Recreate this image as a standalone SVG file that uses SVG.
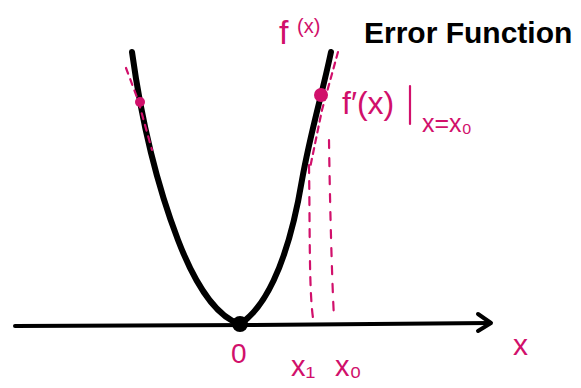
<svg xmlns="http://www.w3.org/2000/svg" width="581" height="388" viewBox="0 0 581 388">
<style>
.pk{fill:#d1106b;font-family:"Liberation Sans",sans-serif}
.pks{fill:none;stroke:#d1106b;stroke-width:2.2;stroke-linecap:round}
.bk{fill:none;stroke:#000;stroke-linecap:round;stroke-linejoin:round}
</style>
<rect width="581" height="388" fill="#fff"/>
<g id="connectors">
<path class="bk" stroke-width="4" d="M15,326 L250,325 L490,323"/>
<path class="bk" stroke-width="4" d="M478,314 L491,323 L478,331"/>
<path class="bk" stroke-width="6" d="M132,52 C140,110 155,180 178,240 C198,292 220,318 240,324 C262,310 287,270 302,180 C311,130 322,95 331,52"/>
<path class="pks" stroke-dasharray="6,5" d="M338,52 L322,110 L310,168"/>
<path class="pks" stroke-dasharray="8,8" d="M309,165 C310,230 309,290 313,318"/>
<path class="pks" stroke-dasharray="8,10" d="M329,140 C330,210 332,280 334,318"/>
<path class="pks" stroke-dasharray="6,6" d="M126,68 L138,100 L152,150"/>
</g>
<g id="vertex"><circle cx="240" cy="324" r="8" fill="#000"/></g>
<g id="point-right"><circle cx="321" cy="95" r="7" fill="#d1106b"/></g>
<g id="point-left"><circle cx="140" cy="102" r="5" fill="#d1106b"/></g>
<g id="labels">
<text class="pk" x="279" y="44" font-size="34">f</text>
<text class="pk" x="297" y="33" font-size="20">(x)</text>
<text x="364" y="43" font-family="Liberation Sans,sans-serif" font-weight="bold" font-size="30" fill="#000">Error Function</text>
<text class="pk" x="342" y="114" font-size="32">f′(x)</text>
<path class="pks" d="M410,86 L410,124"/>
<text class="pk" x="422" y="132" font-size="25">x=x₀</text>
<text class="pk" x="513" y="355" font-size="30">x</text>
<text class="pk" x="231" y="363" font-size="28">0</text>
<text class="pk" x="291" y="376" font-size="29">x₁</text>
<text class="pk" x="335" y="376" font-size="29">x₀</text>
</g>
</svg>
